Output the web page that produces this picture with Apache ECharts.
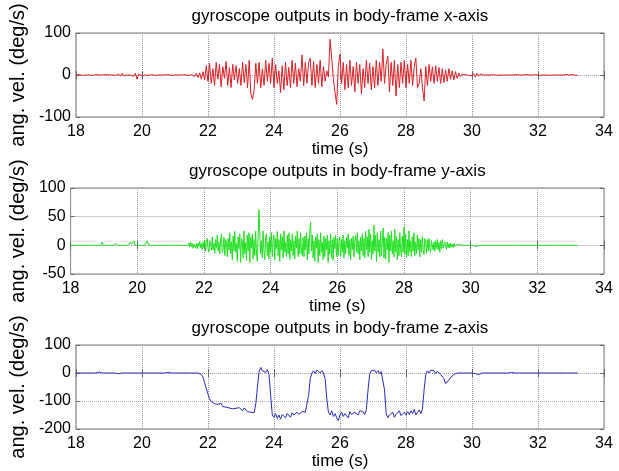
<!DOCTYPE html>
<html>
<head>
<meta charset="utf-8">
<script src="https://cdn.jsdelivr.net/npm/echarts@6/dist/echarts.min.js"></script>
<style>
  html, body { margin: 0; padding: 0; background: #fff; }
  #chart { width: 619px; height: 471px; }
</style>
</head>
<body>
<div id="chart"></div>
<script>
// Recording starts at T0 seconds; every row below holds one second of samples
const T0 = 18;

// Panel titles and axis names
const titles = [
  'gyroscope outputs in body-frame x-axis',
  'gyroscope outputs in body-frame y-axis',
  'gyroscope outputs in body-frame z-axis'
];
const xName = 'time (s)';
const yName = 'ang. vel. (deg/s)';

// Axis ranges: time axis and each panel's angular-velocity axis [min, max, step]
const timeAxis = [18, 34, 2];
const yAxesRange = [[-100, 100, 100], [-50, 100, 50], [-200, 100, 100]];

// Angular velocity about the body-frame x-axis (deg/s), sampled every 0.05 s
const stepX = 0.05;
const gyroX = [
  [0,0,1,0,-1,0,0,1,0,0,-1,0,1,0,0,-1,0,0,1,0],
  [0,0,0,1,-1,0,2,-3,4,-2,1,0,-1,0,1,-3,4,-10,2,-1],
  [-2,1,0,0,-1,0,1,0,-1,0,0,1,0,-1,0,0,1,0,-1,0],
  [0,1,0,-1,0,0,1,0,-1,0,0,1,-3,4,-6,5,-10,8,-12,22],
  [-15,28,-20,15,-25,30,-10,25,-28,20,-8,32,-25,18,-30,25,-12,22,-20,15],
  [-25,30,-18,25,-30,35,-45,-58,-35,28,-20,30,-30,15,-25,35,-15,28,-20,40],
  [-30,25,-20,10,-42,22,-35,30,-25,18,-30,35,-20,28,-28,15,-15,48,-25,30],
  [-20,30,40,-25,32,-30,25,-20,35,-28,20,-15,10,-5,85,40,-10,-40,-70,20],
  [50,-20,30,-35,25,-30,35,-25,20,-40,30,-20,25,-45,15,-30,35,-20,28,-35],
  [20,-30,35,-25,30,-15,62,-20,25,45,-40,30,-25,35,-50,25,-30,30,-20,35],
  [-30,25,-20,35,-25,20,40,-30,-20,15,-30,-62,20,-25,25,-15,20,-20,22,-15],
  [18,-20,15,-18,12,-15,15,-10,10,-12,8,-8,5,-4,2,-2,1,0,-1,0],
  [-2,3,-5,4,-3,2,-1,0,1,0,-1,0,0,1,0,-1,0,0,1,0],
  [0,0,1,0,-1,0,0,1,0,0,-1,0,0,1,0,0,-1,0,0,1],
  [0,-1,0,0,1,0,0,-1,0,0,1,0,0,0,-1,0,0,1,0,0],
  [0,1,0,-1,0]
];

// Angular velocity about the body-frame y-axis (deg/s), sampled every 0.025 s
const stepY = 0.025;
const gyroY = [
  [0,0,0,0,0,0,0,0,0,0, 0,0,0,0,0,0,0,0,0,0, 0,0,0,0,0,0,0,0,1,0, 0,0,0,0,0,0,0,2,6,0],
  [0,0,0,0,0,0,0,0,0,0, 0,0,0,0,3,0,0,0,0,0, 0,0,0,0,0,0,0,0,0,0, 0,0,6,2,0,1,8,1,0,0],
  [0,0,0,0,0,0,0,0,0,0, 0,0,8,1,0,0,0,0,0,0, 0,0,0,0,0,0,0,0,0,0, 0,0,0,0,0,0,0,0,0,0],
  [0,0,0,0,0,0,0,0,0,0, 0,0,0,0,0,0,0,0,0,0, 0,0,4,-3,6,-2,3,-5,2,5, -4,3,-6,4,-2,7,-5,3,-8,6],
  [-4,9,-10,5,12,-6,-12,8,3,-9, 15,-8,4,-14,10,-5,18,-10,6,-15, 8,20,-12,-6,14,-18,10,5,-20,12, -8,22,-15,6,-25,16,-10,24,-12,4],
  [-28,15,-6,20,-30,12,8,-22,25,-15, 5,-26,18,-10,22,-30,14,-5,20,-24, 10,-18,25,-12,-28,16,62,20,-15,8, -22,25,-10,-25,14,20,-18,6,-24,15],
  [-12,22,-20,8,18,-25,12,-6,24,-18, 10,-28,20,-8,15,-22,25,-12,6,-20, 18,-15,22,-25,10,-10,20,-18,8,-24, 16,-5,25,-20,12,-15,22,-10,-18,14],
  [-20,16,-8,22,-25,12,-15,20,40,-10, 18,-22,8,-28,15,-5,20,-30,10,-18, 22,-12,6,-25,16,-20,12,-8,18,-30, 8,-15,20,-22,10,-26,14,-6,18,-20],
  [12,-18,6,15,-20,10,-12,18,-22,8, -15,14,-5,20,-18,10,-25,12,-8,16, -20,6,18,-12,22,-15,8,-25,14,-10, 20,-18,12,-22,25,-8,15,-20,28,-12],
  [20,-25,8,-15,35,-10,18,-28,22,-12, 10,-20,25,-18,6,30,-22,14,-25,12, -8,22,-30,18,-10,25,-15,8,-20,28, -12,15,-25,10,-18,22,-8,-20,16,-12],
  [32,-15,20,-22,10,-18,25,-12,8,-20, 15,-10,22,-18,6,-15,18,-8,12,-20, 10,-12,15,-8,-16,12,6,-14,10,-10, 12,-6,-12,8,10,-8,6,-10,8,-6],
  [10,-8,5,-12,8,-6,10,-5,-8,6, 4,-7,6,-4,3,-5,4,-3,2,-4, 3,-2,1,-2,2,-1,0,1,-1,0, 0,0,0,0,0,0,0,0,0,0],
  [0,0,1,-1,2,-2,1,0,-1,1, 0,0,0,0,0,0,0,0,0,0, 0,0,0,0,0,0,0,0,0,0, 0,0,0,0,0,0,0,0,0,0],
  [0,0,0,0,0,0,0,0,0,0, 0,0,0,0,0,0,0,0,0,0, 0,0,0,0,0,0,0,0,0,0, 0,0,0,0,0,0,0,0,0,0],
  [0,0,0,0,0,0,0,0,0,0, 0,0,0,0,0,0,0,0,0,0, 0,0,0,0,0,0,0,0,0,0, 0,0,0,0,0,0,0,0,0,0],
  [0,0,0,0,0,0,0,0,0]
];

// Angular velocity about the body-frame z-axis (deg/s), sampled every 0.05 s
const stepZ = 0.05;
const gyroZ = [
  [0,0,0,0,0,0,0,0,0,0,0,0,0,0,3,1,0,0,0,0],
  [0,0,0,0,0,0,-3,-1,0,0,0,0,0,0,0,0,0,0,0,0],
  [0,0,0,0,0,0,0,0,0,0,0,0,0,0,0,0,2,0,0,0],
  [0,0,0,0,0,0,0,0,0,0,0,1,0,2,0,0,-5,-15,-35,-55],
  [-75,-92,-102,-98,-110,-105,-112,-118,-108,-120,-115,-122,-118,-125,-120,-128,-122,-126,-132,-124],
  [-128,-135,-125,-130,-138,-132,-140,-134,-142,-110,-50,5,20,8,15,2,12,-5,-80,-150],
  [-158,-145,-162,-150,-165,-148,-155,-160,-145,-152,-158,-142,-150,-155,-140,-148,-152,-138,-145,-140],
  [-135,-80,-20,0,8,-2,10,5,0,8,0,-20,-90,-140,-150,-135,-155,-145,-160,-170],
  [-150,-140,-155,-145,-150,-160,-138,-148,-152,-140,-145,-150,-135,-142,-138,-148,-130,-60,-5,8],
  [2,10,0,8,-3,5,0,-60,-145,-160,-150,-155,-140,-158,-148,-150,-135,-152,-145,-140],
  [-150,-138,-148,-135,-145,-130,-150,-140,-132,-145,-128,-60,-5,8,0,10,3,8,-2,6],
  [0,-5,-12,-20,-38,-32,-25,-18,-10,-5,-2,0,0,1,0,0,0,-1,0,0],
  [0,0,-2,-1,-6,-2,0,0,0,0,0,0,0,0,0,0,0,0,0,0],
  [0,0,0,0,2,0,0,0,0,0,0,0,0,0,0,0,0,0,0,0],
  [0,0,0,0,0,0,0,0,0,0,0,0,0,0,0,0,0,0,0,0],
  [0,0,0,0,0]
];

const signals = [[gyroX, stepX], [gyroY, stepY], [gyroZ, stepZ]];
const colors = ['#dc1f24', '#22e022', '#2a2ac4'];

// Plot-area placement of the three stacked panels
const panelTops = [33, 188, 345];
const panelHeights = [84, 86, 85];

const FONT = 'Liberation Sans, Arial, Helvetica, sans-serif';
const frameColor = '#7a7a7a';
const gridLine = { show: true, lineStyle: { type: 'dotted', color: '#9a9a9a', width: 1 } };
const innerTick = { show: true, inside: true, length: 4, lineStyle: { color: '#666' } };

// row r, sample j -> time T0 + r + j * step
function toPoints(rows, step) {
  const pts = [];
  rows.forEach((row, r) => row.forEach((v, j) => pts.push([T0 + r + j * step, v])));
  return pts;
}

const grids = [], xAxes = [], yAxes = [], series = [];

signals.forEach(([rows, step], k) => {
  grids.push({
    left: 68, right: 15, top: panelTops[k], height: panelHeights[k],
    show: true, borderColor: frameColor, borderWidth: 1, backgroundColor: '#fff'
  });
  const [ymin, ymax, ystep] = yAxesRange[k];
  // bottom time axis with labels
  xAxes.push({
    type: 'value', gridIndex: k, position: 'bottom',
    min: timeAxis[0], max: timeAxis[1], interval: timeAxis[2],
    axisLine: { show: false }, axisTick: innerTick, splitLine: gridLine,
    axisLabel: { fontSize: 16, color: '#000', margin: 7, fontFamily: FONT },
    name: xName, nameLocation: 'middle', nameGap: 24,
    nameTextStyle: { fontSize: 17, color: '#000', fontFamily: FONT }
  });
  // top edge: ticks only, carries the panel title
  xAxes.push({
    type: 'value', gridIndex: k, position: 'top',
    min: timeAxis[0], max: timeAxis[1], interval: timeAxis[2],
    axisLine: { show: false }, axisTick: innerTick, splitLine: { show: false },
    axisLabel: { show: false },
    name: titles[k], nameLocation: 'middle', nameGap: 8,
    nameTextStyle: { fontSize: 17, color: '#000', fontFamily: FONT }
  });
  yAxes.push({
    type: 'value', gridIndex: k, position: 'left',
    min: ymin, max: ymax, interval: ystep,
    axisLine: { show: false }, axisTick: innerTick, splitLine: gridLine,
    axisLabel: { fontSize: 16, color: '#000', margin: 5, fontFamily: FONT },
    name: yName, nameLocation: 'middle', nameGap: 40, nameRotate: 90,
    nameTextStyle: { fontSize: 20, color: '#000', fontFamily: FONT }
  });
  yAxes.push({
    type: 'value', gridIndex: k, position: 'right',
    min: ymin, max: ymax, interval: ystep,
    axisLine: { show: false }, axisTick: innerTick, splitLine: { show: false },
    axisLabel: { show: false }
  });
  series.push({
    type: 'line', xAxisIndex: 2 * k, yAxisIndex: 2 * k,
    showSymbol: false, symbol: 'none', sampling: null,
    lineStyle: { color: colors[k], width: 1 },
    data: toPoints(rows, step),
    z: 3
  });
});

const chart = echarts.init(document.getElementById('chart'), null, { renderer: 'canvas' });
chart.setOption({
  animation: false,
  backgroundColor: '#fff',
  textStyle: { fontFamily: FONT },
  grid: grids,
  xAxis: xAxes,
  yAxis: yAxes,
  series: series
});
</script>
</body>
</html>
